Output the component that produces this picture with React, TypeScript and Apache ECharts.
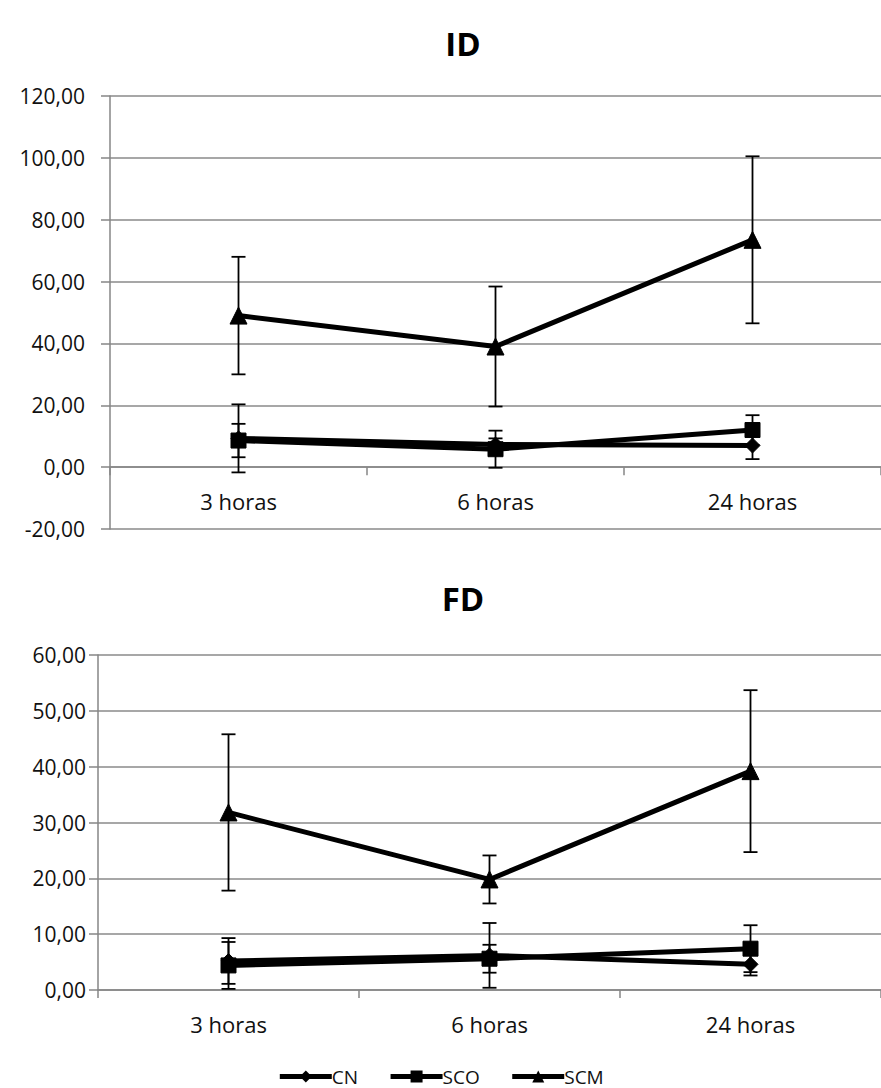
import React, { useEffect, useRef } from "react";
import * as echarts from "echarts";

const categories = ["3 horas", "6 horas", "24 horas"];
const seriesNames = ["CN", "SCO", "SCM"];

// ID panel
const idCN = [9.3, 7.3, 7.0];
const idCNErr = [11.0, 2.0, 4.4];
const idSCO = [8.6, 5.8, 12.0];
const idSCOErr = [5.4, 6.0, 4.8];
const idSCM = [49.0, 39.0, 73.5];
const idSCMErr = [19.0, 19.4, 27.0];

// FD panel
const fdCN = [5.2, 6.2, 4.6];
const fdCNErr = [4.1, 5.8, 2.0];
const fdSCO = [4.4, 5.6, 7.4];
const fdSCOErr = [4.2, 2.5, 4.2];
const fdSCM = [31.8, 19.8, 39.2];
const fdSCMErr = [14.0, 4.3, 14.5];

const idTicks = { min: -20, max: 120, interval: 20 };
const fdTicks = { min: 0, max: 60, interval: 10 };

const FONT = "'Open Sans', 'Liberation Sans', sans-serif";
const symbols = ["diamond", "rect", "triangle"];
const symbolSizes = [15, 15, 17];

function errData(mean: number[], err: number[]) {
  return mean.map((m, i) => [i, m - err[i], m + err[i]]);
}

function renderErr(params: any, api: any) {
  const x = api.value(0);
  const lo = api.coord([x, api.value(1)]);
  const hi = api.coord([x, api.value(2)]);
  const w = 7;
  const style = { stroke: "#000", lineWidth: 1.8 };
  return {
    type: "group",
    children: [
      { type: "line", shape: { x1: lo[0], y1: lo[1], x2: hi[0], y2: hi[1] }, style },
      { type: "line", shape: { x1: hi[0] - w, y1: hi[1], x2: hi[0] + w, y2: hi[1] }, style },
      { type: "line", shape: { x1: lo[0] - w, y1: lo[1], x2: lo[0] + w, y2: lo[1] }, style },
    ],
  };
}

const fmt = (v: number) => v.toFixed(2).replace(".", ",");

export default function App() {
  const ref = useRef<HTMLDivElement>(null);
  useEffect(() => {
    if (!ref.current) return;
    const chart = echarts.init(ref.current, undefined, { renderer: "svg" });

    const panels = [
      { means: [idCN, idSCO, idSCM], errs: [idCNErr, idSCOErr, idSCMErr] },
      { means: [fdCN, fdSCO, fdSCM], errs: [fdCNErr, fdSCOErr, fdSCMErr] },
    ];

    const series: any[] = [];
    panels.forEach((p, gi) => {
      p.means.forEach((m, si) => {
        series.push({
          type: "custom",
          name: seriesNames[si] + "_err_" + gi,
          xAxisIndex: gi,
          yAxisIndex: gi,
          renderItem: renderErr,
          encode: { x: 0, y: [1, 2] },
          data: errData(m, p.errs[si]),
          z: 1,
          silent: true,
        });
      });
      p.means.forEach((m, si) => {
        series.push({
          type: "line",
          name: seriesNames[si],
          xAxisIndex: gi,
          yAxisIndex: gi,
          data: m,
          symbol: symbols[si],
          symbolSize: symbolSizes[si],
          showSymbol: true,
          lineStyle: { color: "#000", width: 5 },
          itemStyle: { color: "#000", borderColor: "#000" },
          z: 3,
        });
      });
    });

    const xAxisBase = (margin: number) => ({
      type: "category",
      data: categories,
      boundaryGap: true,
      axisLine: { show: true, onZero: true, lineStyle: { color: "#868686", width: 1.5 } },
      axisTick: { show: true, length: 8, alignWithLabel: false, lineStyle: { color: "#868686", width: 1.5 } },
      axisLabel: { margin, fontSize: 22, fontFamily: FONT, color: "#111" },
      splitLine: { show: false },
    });

    const yAxisBase = (t: any, margin: number) => ({
      type: "value",
      min: t.min,
      max: t.max,
      interval: t.interval,
      axisLine: { show: true, lineStyle: { color: "#868686", width: 1.5 } },
      axisTick: { show: true, length: 9, inside: false, lineStyle: { color: "#868686", width: 1.5 } },
      axisLabel: { margin, fontSize: 21, fontFamily: FONT, color: "#111", formatter: fmt },
      splitLine: { show: true, lineStyle: { color: "#8a8a8a", width: 1.5 } },
    });

    chart.setOption({
      animation: false,
      backgroundColor: "#fff",
      title: [
        {
          text: "ID",
          left: 458,
          top: 38,
          textAlign: "center",
          textVerticalAlign: "middle",
          textStyle: { fontSize: 33, fontWeight: "bold", fontFamily: FONT, color: "#000" },
        },
        {
          text: "FD",
          left: 458,
          top: 593,
          textAlign: "center",
          textVerticalAlign: "middle",
          textStyle: { fontSize: 33, fontWeight: "bold", fontFamily: FONT, color: "#000" },
        },
      ],
      grid: [
        { left: 110, top: 96, width: 771, height: 433 },
        { left: 98, top: 655, width: 798, height: 335 },
      ],
      xAxis: [
        { ...xAxisBase(-39), gridIndex: 0 },
        { ...xAxisBase(23), gridIndex: 1 },
      ],
      yAxis: [
        { ...yAxisBase(idTicks, 25), gridIndex: 0 },
        { ...yAxisBase(fdTicks, 12), gridIndex: 1 },
      ],
      legend: {
        data: seriesNames,
        left: "center",
        top: 1062,
        itemWidth: 52,
        itemHeight: 15,
        itemGap: 30,
        lineStyle: { color: "#000", width: 5 },
        itemStyle: { color: "#000", borderColor: "#000" },
        textStyle: { fontSize: 19, fontFamily: FONT, color: "#111", padding: [0, 0, 0, -5] },
      },
      series,
    });

    return () => chart.dispose();
  }, []);

  return (
    <div
      ref={ref}
      style={{ position: "absolute", left: 0, top: 0, width: 881, height: 1088, background: "#fff" }}
    />
  );
}
